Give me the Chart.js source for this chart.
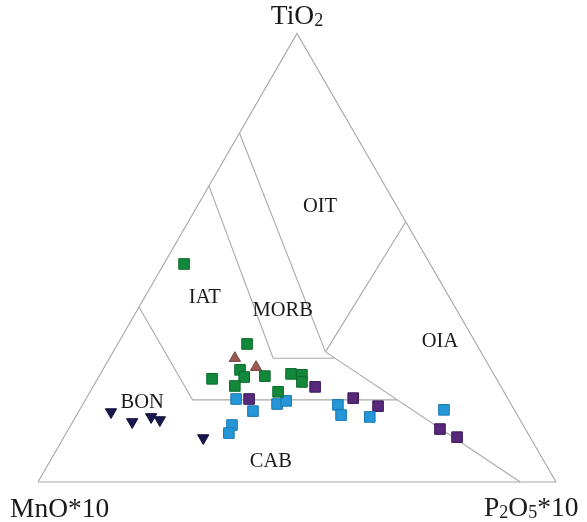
<!DOCTYPE html>
<html><head><meta charset="utf-8">
<script src="https://cdn.jsdelivr.net/npm/chart.js@4/dist/chart.umd.min.js"></script>
<style>html,body{margin:0;padding:0;background:#fff;}#wrap{width:587px;height:522px;}</style>
</head><body><div id="wrap"><canvas id="c" width="587" height="522"></canvas></div>
<script>
// Ternary compositions as [MnO*10, TiO2, P2O5*10] in %
const groupGreen = [[47.5,48.6,3.9],[44.3,30.8,25.0],[48.5,25.0,26.5],[48.5,23.4,28.1],[54.9,23.0,22.1],[51.3,21.4,27.3],[44.4,23.6,32.0],[39.1,24.1,36.8],[37.1,23.9,39.0],[37.9,22.3,39.8],[43.6,20.1,36.3]];
const groupBrown = [[48.2,27.6,24.2],[45.1,25.6,29.3]];
const groupPurple = [[35.9,21.2,42.9],[50.0,18.5,31.5],[29.8,18.7,51.5],[25.9,16.9,57.2],[16.5,11.8,71.7],[14.1,10.0,75.9]];
const groupBlue = [[52.5,18.5,29.0],[50.6,15.8,33.6],[45.2,17.4,37.5],[43.1,18.1,38.9],[56.2,12.7,31.1],[57.7,10.9,31.4],[33.5,17.2,49.3],[34.0,14.9,51.0],[28.7,14.5,56.8],[13.6,16.1,70.4]];
const groupNavy = [[78.1,15.6,6.3],[75.2,13.4,11.5],[70.9,14.5,14.6],[69.5,13.8,16.6],[63.2,9.8,27.0]];

// Field boundaries (ternary polylines)
const outline = [[100,0,0],[0,100,0],[0,0,100],[100,0,0]];
const bonLine = [[61,39,0],[61,18.3,20.7],[21.5,18.3,60.2]];
const cabLine = [[30,29,41],[6.9,0,93.1]];
const iatMorbLine = [[34,66,0],[40.8,27.6,31.6],[29.0,27.6,43.4]];
const oitMorbLine = [[22.2,77.8,0],[30,29,41]];
const oiaLine = [[0,58,42],[30,29,41]];

// Field names and anchor compositions
const fieldNames = ['OIT','IAT','MORB','OIA','BON','CAB'];
const fieldAnchors = [[14.8,61.5,23.7],[47.2,41.2,11.6],[33.6,38.3,28.1],[6.8,31.2,62.0],[71.0,17.8,11.2],[52.8,4.5,42.7]];

const S3 = Math.sqrt(3)/2;
function toXY(c){const s=c[0]+c[1]+c[2];const t=c[1]/s,p=c[2]/s;return {x:p+t/2,y:t*S3};}

function lineDs(arr){return {type:'line',data:arr.map(toXY),borderColor:'#a8a8a8',borderWidth:1.1,pointRadius:0,fill:false,tension:0,order:10};}
function ptDs(arr,fill,border,style,r,rot){return {type:'scatter',data:arr.map(toXY),backgroundColor:fill,borderColor:border,borderWidth:1,pointStyle:style,pointRadius:r,pointRotation:rot||0,order:1};}

const labelPlugin = {
  id:'labels',
  afterDatasetsDraw(chart){
    const ctx=chart.ctx, xs=chart.scales.x, ys=chart.scales.y;
    ctx.save();
    ctx.fillStyle='#1a1a1a';
    ctx.textAlign='center'; ctx.textBaseline='middle';
    ctx.font='20.5px "Liberation Serif", serif';
    fieldNames.forEach((n,i)=>{const p=toXY(fieldAnchors[i]);ctx.fillText(n,xs.getPixelForValue(p.x),ys.getPixelForValue(p.y));});
    function rich(parts,x,y,align){
      ctx.textBaseline='alphabetic'; ctx.textAlign='left';
      const f=pt=>(pt[1]?'18px':'27.5px')+' "Liberation Serif", serif';
      let w=0; parts.forEach(pt=>{ctx.font=f(pt);w+=ctx.measureText(pt[0]).width;});
      let cx = align==='center'? x-w/2 : x;
      parts.forEach(pt=>{ctx.font=f(pt);ctx.fillText(pt[0],cx,y+(pt[1]?2:0));cx+=ctx.measureText(pt[0]).width;});
    }
    const top=toXY([0,100,0]), left=toXY([100,0,0]), right=toXY([0,0,100]);
    rich([['TiO',0],['2',1]], xs.getPixelForValue(top.x), ys.getPixelForValue(top.y)-9, 'center');
    rich([['MnO*10',0]], xs.getPixelForValue(left.x)-28, ys.getPixelForValue(left.y)+35, 'left');
    rich([['P',0],['2',1],['O',0],['5',1],['*10',0]], xs.getPixelForValue(right.x)-72, ys.getPixelForValue(right.y)+34, 'left');
    ctx.restore();
  }
};

new Chart(document.getElementById('c'),{
  data:{datasets:[
    lineDs(outline),lineDs(bonLine),lineDs(cabLine),lineDs(iatMorbLine),lineDs(oitMorbLine),lineDs(oiaLine),
    ptDs(groupGreen,'#12883a','#0b6a2a','rect',7.5),
    ptDs(groupBlue,'#2596d6','#1a78b4','rect',7.5),
    ptDs(groupPurple,'#58287a','#3c1a58','rect',7.5),
    ptDs(groupBrown,'#9a5a52','#7a4440','triangle',6.5),
    ptDs(groupNavy,'#17174e','#0e0e38','triangle',6.5,180)
  ]},
  options:{
    responsive:false,animation:false,
    layout:{padding:0,autoPadding:false},
    plugins:{legend:{display:false},tooltip:{enabled:false}},
    scales:{
      x:{type:'linear',display:false,min:-38/518,max:549/518},
      y:{type:'linear',display:false,min:-40/518,max:482/518}
    }
  },
  plugins:[labelPlugin]
});
</script></body></html>
